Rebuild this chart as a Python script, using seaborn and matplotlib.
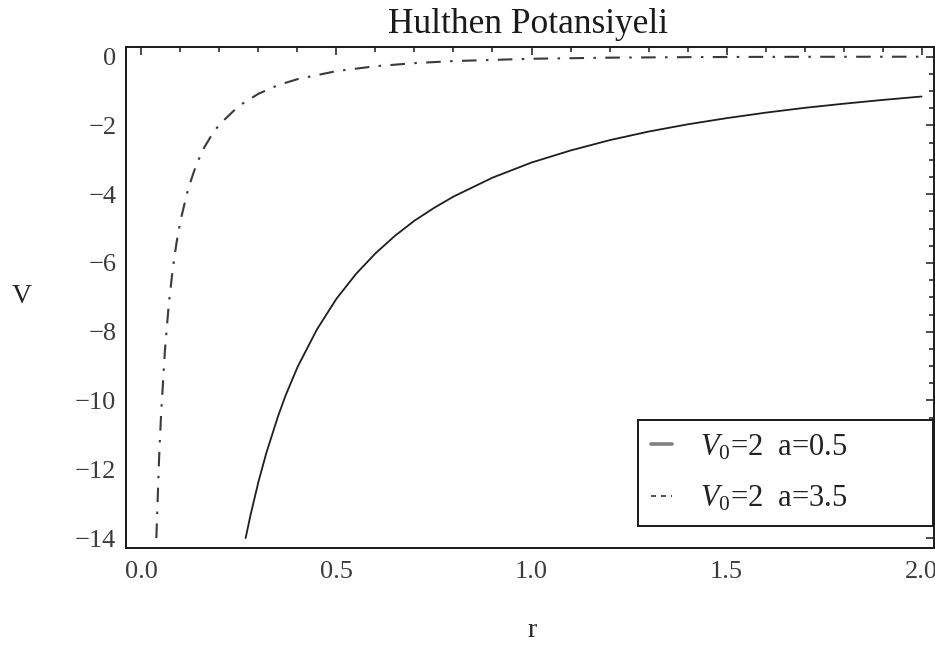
import numpy as np
import pandas as pd
import matplotlib
matplotlib.use("Agg")
import matplotlib.pyplot as plt
from matplotlib.lines import Line2D
from matplotlib.ticker import MultipleLocator, FormatStrFormatter
import seaborn as sns

# Hulthen potential, V0 = 2, a = 0.5
r_a05 = [0.267, 0.28, 0.30, 0.32, 0.35, 0.37, 0.40, 0.45, 0.50, 0.55, 0.60, 0.65,
         0.70, 0.75, 0.80, 0.90, 1.00, 1.10, 1.20, 1.30, 1.40, 1.50, 1.60, 1.70,
         1.80, 1.90, 2.00]
v_a05 = [-14.0, -13.31, -12.36, -11.53, -10.46, -9.84, -9.03, -7.93, -7.04, -6.32,
         -5.72, -5.21, -4.77, -4.40, -4.07, -3.52, -3.08, -2.73, -2.43, -2.18,
         -1.97, -1.79, -1.63, -1.49, -1.37, -1.26, -1.16]

# Hulthen potential, V0 = 2, a = 3.5
r_a35 = [0.0381, 0.045, 0.05, 0.06, 0.07, 0.08, 0.09, 0.10, 0.12, 0.14, 0.16, 0.18,
         0.20, 0.25, 0.30, 0.35, 0.40, 0.50, 0.60, 0.70, 0.80, 1.00, 1.20, 1.40,
         1.60, 1.80, 2.00]
v_a35 = [-14.0, -11.72, -10.46, -8.56, -7.20, -6.19, -5.40, -4.77, -3.83, -3.16,
         -2.66, -2.28, -1.97, -1.43, -1.08, -0.83, -0.655, -0.421, -0.279, -0.189,
         -0.129, -0.062, -0.030, -0.015, -0.007, -0.004, -0.002]

legend_labels = [r"$V_0$=2  a=0.5", r"$V_0$=2  a=3.5"]
title_text = "Hulthen Potansiyeli"
x_label = "r"
y_label = "V"

sns.set_style("white")
plt.rcParams["font.family"] = ["Liberation Serif", "DejaVu Serif"]
plt.rcParams["mathtext.fontset"] = "custom"
plt.rcParams["mathtext.rm"] = "Liberation Serif"
plt.rcParams["mathtext.it"] = "Liberation Serif:italic"

W, H = 935, 654
fig = plt.figure(figsize=(W / 100, H / 100), dpi=100)
ax = fig.add_axes([126 / W, 1 - 548 / H, (934 - 126) / W, (548 - 47) / H])

df1 = pd.DataFrame({"r": r_a05, "V": v_a05})
df2 = pd.DataFrame({"r": r_a35, "V": v_a35})
sns.lineplot(data=df1, x="r", y="V", ax=ax, color="#1e1e1e", linewidth=1.3,
             sort=False, estimator=None)
sns.lineplot(data=df2, x="r", y="V", ax=ax, color="#3a3a3a", linewidth=1.5,
             linestyle=(0, (7, 4.5, 1.2, 4.5)), sort=False, estimator=None)

ax.set_xlim(-0.0397, 2.032)
ax.set_ylim(-14.29, 0.28)

for s in ax.spines.values():
    s.set_color("#1a1a1a")
    s.set_linewidth(1.4)
    s.set_visible(True)

ax.xaxis.set_major_locator(MultipleLocator(0.5))
ax.xaxis.set_minor_locator(MultipleLocator(0.1))
ax.yaxis.set_major_locator(MultipleLocator(2))
ax.yaxis.set_minor_locator(MultipleLocator(0.5))
ax.xaxis.set_major_formatter(FormatStrFormatter("%.1f"))
ax.tick_params(which="both", direction="in", top=True, right=True,
               color="#1a1a1a", width=1.1, labelcolor="#3c3c3c", labelsize=19)
ax.tick_params(which="major", length=6)
ax.tick_params(which="minor", length=3.5)
ax.tick_params(axis="x", which="both", pad=9.5)
ax.tick_params(axis="y", which="both", pad=7)

ax.set_xlabel("")
ax.set_ylabel("")
fig.text(532 / W, 1 - 637 / H, x_label, ha="center", va="baseline",
         fontsize=20, color="#222222")
fig.text(22 / W, 1 - 303 / H, y_label, ha="center", va="baseline",
         fontsize=20, color="#222222")
fig.text(528 / W, 1 - 33 / H, title_text, ha="center", va="baseline",
         fontsize=25.5, color="#1a1a1a")

handles = [
    Line2D([], [], color="#808080", linewidth=2.6),
    Line2D([], [], color="#333333", linewidth=1.2, linestyle=(0, (3, 3))),
]
leg = ax.legend(handles, legend_labels, loc="upper left",
                bbox_to_anchor=(0.634, 0.04, 0.3648, 0.2155), mode="expand",
                frameon=True, fancybox=False, framealpha=1, edgecolor="#1a1a1a",
                fontsize=22, handlelength=0.7, handletextpad=0.9,
                labelspacing=0.72, borderpad=0.41, borderaxespad=0)
leg.get_frame().set_linewidth(1.4)
for t in leg.get_texts():
    t.set_color("#222222")

fig.savefig("out.png", dpi=100)
